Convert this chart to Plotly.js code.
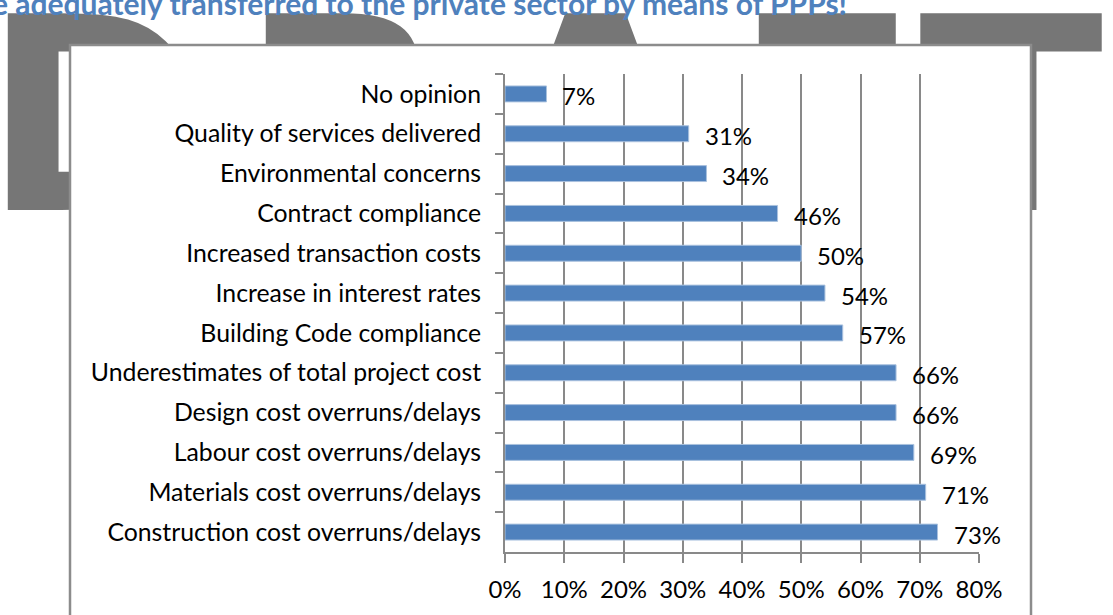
<!DOCTYPE html>
<html>
<head>
<meta charset="utf-8">
<script src="https://cdn.plot.ly/plotly-3.0.1.min.js"></script>
<style>
  html, body { margin: 0; padding: 0; background: #ffffff; }
  #wm, #chart { position: absolute; left: 0; top: 0; width: 1113px; height: 615px; }
  #wm { z-index: 1; }
  #chart { z-index: 2; }
</style>
</head>
<body>
<div id="wm"></div>
<div id="chart"></div>
<script>
// ---- data ----
const categories = [
  "No opinion",
  "Quality of services delivered",
  "Environmental concerns",
  "Contract compliance",
  "Increased transaction costs",
  "Increase in interest rates",
  "Building Code compliance",
  "Underestimates of total project cost",
  "Design cost overruns/delays",
  "Labour cost overruns/delays",
  "Materials cost overruns/delays",
  "Construction cost overruns/delays"
];
const values = [0.07, 0.31, 0.34, 0.46, 0.50, 0.54, 0.57, 0.66, 0.66, 0.69, 0.71, 0.73];
const valueLabels = ["7%", "31%", "34%", "46%", "50%", "54%", "57%", "66%", "66%", "69%", "71%", "73%"];
const xTickVals = [0, 0.1, 0.2, 0.3, 0.4, 0.5, 0.6, 0.7, 0.8];
const xTickText = ["0%", "10%", "20%", "30%", "40%", "50%", "60%", "70%", "80%"];
const titleText = "e adequately transferred to the private sector by means of PPPs!";
const watermarkLetters = ["D", "R", "A", "F", "T"];

// ---- watermark (separate layer beneath the chart) ----
const W = 1113, H = 615;
const wmCenters = [95, 345, 596, 826, 1012];
const wmAnn = watermarkLetters.map((ch, i) => ({
  text: ch, xref: 'paper', yref: 'paper',
  x: wmCenters[i] / W, y: 1 - 117 / H,
  xanchor: 'center', yanchor: 'middle', showarrow: false,
  font: { family: 'DejaVu Sans', size: 270, color: '#767676', weight: 'bold' }
}));
Plotly.newPlot('wm', [], {
  width: W, height: H,
  margin: { l: 0, r: 0, t: 0, b: 0, pad: 0 },
  paper_bgcolor: '#ffffff', plot_bgcolor: '#ffffff',
  xaxis: { visible: false, range: [0, 1] },
  yaxis: { visible: false, range: [0, 1] },
  annotations: wmAnn,
  showlegend: false
}, { staticPlot: true, displayModeBar: false });

// ---- chart ----
const mL = 505, mR = 134, mT = 74, mB = 63;
const pw = W - mL - mR, ph = H - mT - mB;
const px2x = px => (px - mL) / pw;
const px2y = py => 1 - (py - mT) / ph;

const grey = '#898989';
const tickFont = { family: 'Lato', size: 24, color: '#000000' };
const catFont = { family: 'Lato', size: 24.8, color: '#000000' };

const trace = {
  type: 'bar', orientation: 'h',
  x: values, y: categories,
  width: 0.4,
  marker: { color: '#4f81bd', line: { color: '#a9c1de', width: 1 } },
  hoverinfo: 'none'
};

const labelAnn = categories.map((c, i) => ({
  x: values[i], y: c, xref: 'x', yref: 'y',
  text: valueLabels[i], showarrow: false,
  xanchor: 'left', yanchor: 'middle', xshift: 14, yshift: -2,
  font: tickFont
}));

const titleAnn = {
  text: '<b>' + titleText + '</b>', xref: 'paper', yref: 'paper',
  x: px2x(849), y: px2y(23), xanchor: 'right', yanchor: 'bottom',
  showarrow: false,
  font: { family: 'Lato', size: 30, color: '#4f81bd' }
};

const layout = {
  width: W, height: H,
  margin: { l: mL, r: mR, t: mT, b: mB, pad: 0 },
  paper_bgcolor: 'rgba(0,0,0,0)', plot_bgcolor: 'rgba(0,0,0,0)',
  showlegend: false,
  xaxis: {
    range: [0, 0.8], tickvals: xTickVals, ticktext: xTickText,
    showgrid: true, gridcolor: grey, gridwidth: 2,
    zeroline: false, showline: true, linecolor: grey, linewidth: 2,
    ticks: 'outside', ticklen: 9, tickwidth: 2, tickcolor: grey,
    ticklabelstandoff: 6,
    tickfont: tickFont, fixedrange: true
  },
  yaxis: {
    type: 'category', categoryorder: 'array', categoryarray: categories,
    autorange: 'reversed',
    showgrid: false, zeroline: false, showline: true, linecolor: grey, linewidth: 2,
    ticks: 'outside', tickson: 'boundaries', ticklen: 8, tickwidth: 2, tickcolor: grey,
    ticklabelstandoff: 17,
    tickfont: catFont, fixedrange: true
  },
  shapes: [{
    type: 'rect', xref: 'paper', yref: 'paper', layer: 'below',
    x0: px2x(70), x1: px2x(1031), y0: px2y(720), y1: px2y(45),
    fillcolor: '#ffffff', line: { color: '#8c8c8c', width: 2.5 }
  }],
  annotations: labelAnn.concat([titleAnn])
};

Plotly.newPlot('chart', [trace], layout, { staticPlot: true, displayModeBar: false });
</script>
</body>
</html>
